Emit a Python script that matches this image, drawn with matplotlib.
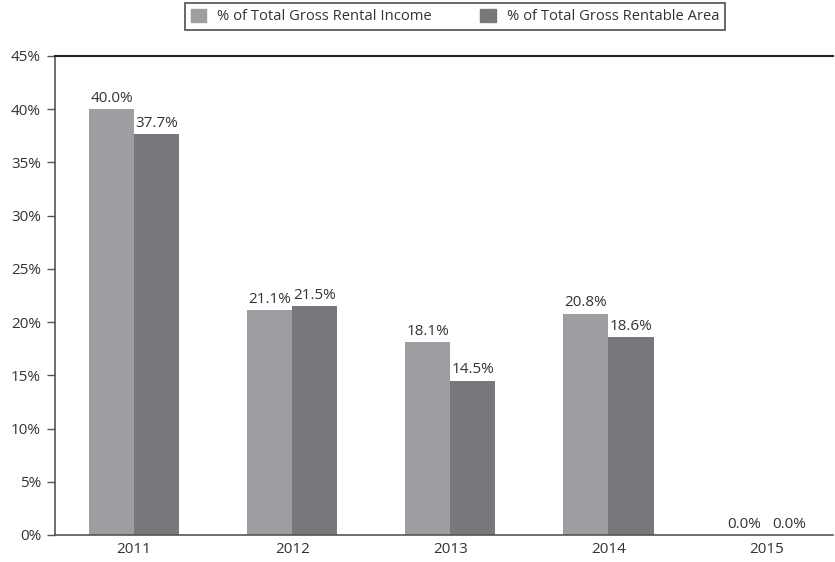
import matplotlib.pyplot as plt
from matplotlib.patches import Patch
from matplotlib.ticker import FuncFormatter

years = ["2011", "2012", "2013", "2014", "2015"]
rental_income = [40.0, 21.1, 18.1, 20.8, 0.0]
rentable_area = [37.7, 21.5, 14.5, 18.6, 0.0]

light = "#9d9ea2"
dark = "#77787c"

plt.rcParams["font.family"] = ["Open Sans", "DejaVu Sans"]

fig = plt.figure(figsize=(8.35, 5.62), dpi=100)
ax = fig.add_axes([55 / 835, 1 - 535 / 562, 778 / 835, 479 / 562])

w = 0.285
xs = range(len(years))
ax.bar([i - w / 2 for i in xs], rental_income, w, color=light)
ax.bar([i + w / 2 for i in xs], rentable_area, w, color=dark)

# value labels above each bar
for i in xs:
    ax.text(i - w / 2, rental_income[i] + 0.3, "%.1f%%" % rental_income[i],
            ha="center", va="bottom", fontsize=11, color="#333333")
    ax.text(i + w / 2, rentable_area[i] + 0.3, "%.1f%%" % rentable_area[i],
            ha="center", va="bottom", fontsize=11, color="#333333")

ax.set_xlim(-0.5, 4.42)
ax.set_ylim(0, 45)
ax.set_yticks(range(0, 46, 5))
ax.yaxis.set_major_formatter(FuncFormatter(lambda v, p: "%d%%" % v))
ax.set_xticks(list(xs))
ax.set_xticklabels(years)
ax.tick_params(axis="x", length=0, pad=5, labelsize=11, labelcolor="#333333")
ax.tick_params(axis="y", length=6, width=1, color="#555555", labelsize=11,
               labelcolor="#333333", pad=4)

ax.spines["right"].set_visible(False)
ax.spines["top"].set_color("#222222")
ax.spines["top"].set_linewidth(1.5)
for s in ["left", "bottom"]:
    ax.spines[s].set_color("#555555")
    ax.spines[s].set_linewidth(1.2)

handles = [Patch(color=light, label="% of Total Gross Rental Income"),
           Patch(color=dark, label="% of Total Gross Rentable Area")]
leg = fig.legend(handles=handles, loc="center", bbox_to_anchor=(455 / 835, 1 - 16.5 / 562),
                 ncol=2, frameon=True, fancybox=False, fontsize=10.6,
                 columnspacing=3.3, handlelength=1.05, handleheight=1.0,
                 borderpad=0.4, handletextpad=0.75)
leg.get_frame().set_edgecolor("#222222")
leg.get_frame().set_linewidth(1.2)
for t in leg.get_texts():
    t.set_color("#333333")

fig.savefig("out.png", dpi=100)
